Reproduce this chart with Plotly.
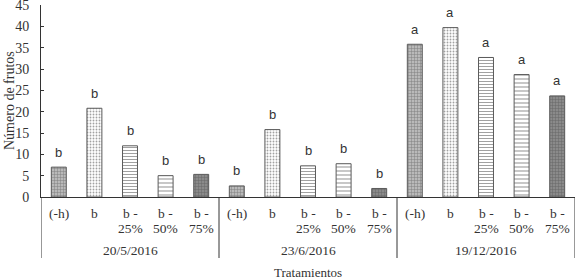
import plotly.graph_objects as go

dates = ["20/5/2016", "23/6/2016", "19/12/2016"]
treatments = ["(-h)", "b", "b -<br>25%", "b -<br>50%", "b -<br>75%"]
values = {
    "20/5/2016": [7.0, 20.8, 12.0, 5.0, 5.3],
    "23/6/2016": [2.6, 15.8, 7.3, 7.8, 2.0],
    "19/12/2016": [35.8, 39.7, 32.7, 28.7, 23.7],
}
letters = {
    "20/5/2016": ["b", "b", "b", "b", "b"],
    "23/6/2016": ["b", "b", "b", "b", "b"],
    "19/12/2016": ["a", "a", "a", "a", "a"],
}
y_ticks = [0, 5, 10, 15, 20, 25, 30, 35, 40, 45]

fill_colors = ["#b9b9b9", "#ffffff", "#ffffff", "#ffffff", "#8a8a8a"]
pat_shapes = ["+", ".", "-", "-", "+"]
pat_fg = ["#a2a2a2", "#c4c4c4", "#8c8c8c", "#8c8c8c", "#747474"]
pat_size = [3, 3, 3, 4, 3]
pat_sol = [0.3, 0.3, 0.35, 0.3, 0.3]

cats, ticktext, ys, cols, shapes, fgs, sizes, sols, labs = [], [], [], [], [], [], [], [], []
for d in dates:
    for i, t in enumerate(treatments):
        cats.append(d + "|" + t)
        ticktext.append(t)
        ys.append(values[d][i])
        cols.append(fill_colors[i])
        shapes.append(pat_shapes[i])
        fgs.append(pat_fg[i])
        sizes.append(pat_size[i])
        sols.append(pat_sol[i])
        labs.append(letters[d][i])

n_per = len(treatments)
fig = go.Figure()
fig.add_trace(go.Bar(
    x=cats, y=ys, width=0.42,
    marker=dict(color=cols, line=dict(color="#5a5a5a", width=1),
                pattern=dict(shape=shapes, fgcolor=fgs, size=sizes, solidity=sols,
                             fillmode="overlay")),
    showlegend=False, hoverinfo="x+y",
))

serif = dict(family="Liberation Serif, Times New Roman", size=13.5, color="#333333")
annotations = []
for c, y, l, t in zip(cats, ys, labs, ticktext):
    annotations.append(dict(x=c, y=y, xref="x", yref="y", text=l, showarrow=False,
                            yanchor="middle", yshift=15,
                            font=dict(family="Liberation Sans, Arial", size=13, color="#333333")))
    for k, line in enumerate(t.split("<br>")):
        annotations.append(dict(x=c, y=0, xref="x", yref="paper", text=line, showarrow=False,
                                yanchor="middle", yshift=-16 - 15 * k, font=serif))

shapes_list = []
for g, d in enumerate(dates):
    center = g * n_per + (n_per - 1) / 2
    annotations.append(dict(x=center, y=0, xref="x", yref="paper", text=d, showarrow=False,
                            yanchor="middle", yshift=-53, font=serif))
    for edge in ([g * n_per - 0.5] if g == 0 else []) + [g * n_per + n_per - 0.5]:
        shapes_list.append(dict(type="line", xref="x", yref="paper", ysizemode="pixel",
                                yanchor=0, x0=edge, x1=edge, y0=0, y1=-61,
                                line=dict(color="#333333", width=1)))

annotations.append(dict(x=0.5, y=0, xref="paper", yref="paper", text="Tratamientos",
                        showarrow=False, yanchor="middle", yshift=-75,
                        font=dict(family=serif["family"], size=13, color="#333333")))
annotations.append(dict(x=0, y=0.5, xref="paper", yref="paper", text="Número de frutos",
                        showarrow=False, textangle=-90, xanchor="center", yanchor="middle",
                        xshift=-32, font=dict(family=serif["family"], size=14, color="#333333")))

fig.update_layout(
    width=576, height=280,
    margin=dict(l=41, r=1, t=5, b=83),
    paper_bgcolor="white", plot_bgcolor="white",
    font=serif,
    xaxis=dict(type="category", categoryarray=cats, categoryorder="array",
               range=[-0.5, len(cats) - 0.5], showticklabels=False,
               showline=True, linecolor="#333333", linewidth=1, ticks="",
               automargin=False),
    yaxis=dict(range=[0, 45], tickvals=y_ticks, showline=True, linecolor="#333333",
               linewidth=1, showgrid=False, zeroline=False, ticks="inside", ticklen=3,
               tickcolor="#333333", tickfont=dict(family=serif["family"], size=14, color="#333333"),
               automargin=False, ticklabelstandoff=8, ticklabeloverflow="allow"),
    annotations=annotations, shapes=shapes_list,
)
fig.write_html("out.html", config={"displayModeBar": False},
               post_script="document.body.style.margin='0';")
